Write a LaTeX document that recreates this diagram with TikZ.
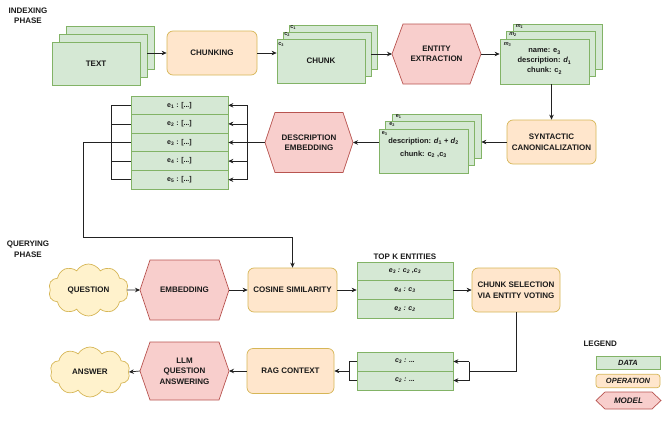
\documentclass[tikz,border=0pt]{standalone}
\usepackage{fontspec}
\setmainfont{Liberation Sans}
\usetikzlibrary{arrows.meta,shapes.symbols}
\definecolor{dataF}{HTML}{D5E8D4}
\definecolor{dataB}{HTML}{82B366}
\definecolor{opF}{HTML}{FFE6CC}
\definecolor{opB}{HTML}{D6B656}
\definecolor{modF}{HTML}{F8CECC}
\definecolor{modB}{HTML}{B85450}
\definecolor{clF}{HTML}{FFF2CC}
\definecolor{clB}{HTML}{D6B656}
\definecolor{lineC}{HTML}{222222}
\definecolor{txtC}{HTML}{1A1A1A}
\newcommand\hexnode[7]{% name, cx, cy, w, h, inset, text
  \draw[model] (#2-#4/2+#6,#3-#5/2) -- (#2+#4/2-#6,#3-#5/2) -- (#2+#4/2,#3)
     -- (#2+#4/2-#6,#3+#5/2) -- (#2-#4/2+#6,#3+#5/2) -- (#2-#4/2,#3) -- cycle;
  \node[base, minimum width=#4, minimum height=#5, inner sep=0, outer sep=0] (#1) at (#2,#3) {#7};}
\begin{document}
\begin{tikzpicture}[x=1pt,y=-1pt,
  base/.style={font=\fontsize{8}{10.5}\selectfont\bfseries, text=txtC, align=center},
  data/.style={base, draw=dataB, fill=dataF, line width=0.7pt, inner sep=0},
  op/.style={base, draw=opB, fill=opF, line width=0.7pt, rounded corners=6pt, inner sep=0},
  model/.style={draw=modB, fill=modF, line width=0.7pt},
  cloudy/.style={base, cloud, cloud puffs=10, cloud puff arc=120, cloud ignores aspect, draw=clB, fill=clF, line width=0.7pt, inner sep=0},
  arr/.style={-{Stealth[length=5pt,width=4.5pt]}, line width=0.7pt, draw=lineC},
  ln/.style={line width=0.7pt, draw=lineC},
  lbl/.style={base, font=\fontsize{5.5}{6}\selectfont\bfseries, inner sep=0},
  rowtxt/.style={font=\fontsize{7}{8}\selectfont\bfseries},
  phase/.style={base}
]
\useasboundingbox (0,0) rectangle (667,431);

% phase labels
\node[phase] (ip) at (28,15.5) {INDEXING\\PHASE};
\node[phase] (qp) at (28,249) {QUERYING\\PHASE};

% TEXT stack
\node[data, minimum width=88, minimum height=43] (tb) at (110,47.5) {};
\node[data, minimum width=88, minimum height=43] (tm) at (103,55.5) {};
\node[data, minimum width=88, minimum height=43] (tf) at (96,63.5) {TEXT};

% CHUNKING
\node[op, minimum width=90, minimum height=44] (chunking) at (212,53) {CHUNKING};

% CHUNK stack
\node[data, minimum width=88, minimum height=44] (cb) at (333,47) {};
\node[data, minimum width=88, minimum height=44] (cm) at (327,54) {};
\node[data, minimum width=88, minimum height=44] (cf) at (321,61) {CHUNK};
\node[lbl, anchor=north west] (cl1) at ([xshift=1.5,yshift=-1]cb.north west) {c\textsubscript{1}};
\node[lbl, anchor=north west] (cl2) at ([xshift=1.5,yshift=-1]cm.north west) {c\textsubscript{2}};
\node[lbl, anchor=north west] (cl3) at ([xshift=1.5,yshift=-4]cf.north west) {c\textsubscript{3}};

% ENTITY EXTRACTION
\hexnode{ee}{436.5}{54}{89}{60}{11}{ENTITY\\EXTRACTION}

% m stack
\node[data, minimum width=89, minimum height=45] (mb) at (557.5,46.5) {};
\node[data, minimum width=89, minimum height=45] (mm) at (551,54) {};
\node[data, minimum width=89, minimum height=45, font=\fontsize{7.5}{10}\selectfont\bfseries] (mf) at (544.5,61.5)
   {name: e\textsubscript{3}\\description: \textit{d}\textsubscript{1}\\chunk: c\textsubscript{2}};
\node[lbl, anchor=north west, font=\fontsize{5.5}{6}\selectfont\bfseries\itshape] (ml1) at ([xshift=3,yshift=-1]mb.north west) {m\textsubscript{1}};
\node[lbl, anchor=north west, font=\fontsize{5.5}{6}\selectfont\bfseries\itshape] (ml2) at ([xshift=3,yshift=-1]mm.north west) {m\textsubscript{2}};
\node[lbl, anchor=north west, font=\fontsize{5.5}{6}\selectfont\bfseries\itshape] (ml3) at ([xshift=4,yshift=-4]mf.north west) {m\textsubscript{3}};

% SYNTACTIC CANONICALIZATION
\node[op, minimum width=89, minimum height=44] (sc) at (551.5,142) {SYNTACTIC\\CANONICALIZATION};

% e stack
\node[data, minimum width=89, minimum height=44] (eb) at (436.5,136) {};
\node[data, minimum width=89, minimum height=44] (em) at (430,143.5) {};
\node[data, minimum width=89, minimum height=44] (ef) at (423.5,151) {};
\node[base, font=\fontsize{7.5}{13}\selectfont\bfseries] (etx) at (423.5,147.5)
   {description: \textit{d}\textsubscript{1} + \textit{d}\textsubscript{2}\\chunk: c\textsubscript{2} ,c\textsubscript{3}};
\node[lbl, anchor=north west] (el1) at ([xshift=4,yshift=-1]eb.north west) {e\textsubscript{1}};
\node[lbl, anchor=north west] (el2) at ([xshift=4,yshift=-1]em.north west) {e\textsubscript{2}};
\node[lbl, anchor=north west] (el3) at ([xshift=3,yshift=-2.5]ef.north west) {e\textsubscript{3}};

% DESCRIPTION EMBEDDING
\hexnode{de}{309}{142.5}{88}{60}{10}{DESCRIPTION\\EMBEDDING}

% entity list
\foreach \i/\y in {1/105.3,2/123.9,3/142.5,4/161.1,5/179.7}{
  \node[data, rowtxt, minimum width=97, minimum height=18.6] (r\i) at (179.5,\y) {e\textsubscript{\i} : [...]};
}
\coordinate (rj) at (247,142.5);
\coordinate (lj) at (111,142.5);
\draw[ln] (de.west) -- (rj);
\draw[ln] (rj |- r1) -- (rj |- r5);
\foreach \i in {1,...,5}{
  \draw[arr] (rj |- r\i) -- (r\i.east);
  \draw[ln] (r\i.west) -- (lj |- r\i);
}
\draw[ln] (lj |- r1) -- (lj |- r5);

% Querying phase
\node[cloudy, minimum width=80, minimum height=52] (q) at (88.5,290) {QUESTION};
\hexnode{emb}{184.5}{290}{89}{60}{10}{EMBEDDING}
\node[op, minimum width=89, minimum height=44] (cs) at (292.5,290) {COSINE SIMILARITY};

\node[base] (tkt) at (405,256.5) {TOP K ENTITIES};
\node[data, rowtxt, minimum width=96, minimum height=18.7] (k1) at (405,271.3) {\textit{e\textsubscript{3} : c\textsubscript{2} ,c\textsubscript{3}}};
\node[data, rowtxt, minimum width=96, minimum height=18.7] (k2) at (405,290) {\textit{e\textsubscript{4} : c\textsubscript{3}}};
\node[data, rowtxt, minimum width=96, minimum height=18.7] (k3) at (405,308.7) {\textit{e\textsubscript{2} : c\textsubscript{2}}};

\node[op, minimum width=88, minimum height=44] (csv) at (516,290) {CHUNK SELECTION\\VIA ENTITY VOTING};

\node[data, rowtxt, minimum width=96, minimum height=19] (x1) at (405,361.5) {\textit{c\textsubscript{3} : ...}};
\node[data, rowtxt, minimum width=96, minimum height=19] (x2) at (405,380.5) {\textit{c\textsubscript{2} : ...}};

\node[op, minimum width=87, minimum height=45] (rag) at (290.5,371) {RAG CONTEXT};
\hexnode{llm}{184.5}{371}{89}{58}{10}{LLM\\QUESTION\\ANSWERING}
\node[cloudy, minimum width=80, minimum height=50] (ans) at (90,372) {ANSWER};

% connectors indexing
\draw[arr] (chunking.west -| tm.east) -- (chunking.west);
\draw[arr] (chunking.east) -- (chunking.east -| cf.west);
\draw[arr] (ee.west -| cm.east) -- (ee.west);
\draw[arr] (ee.east) -- (ee.east -| mf.west);
\draw[arr] (sc.north |- mf.south) -- (sc.north);
\draw[arr] (sc.west) -- (sc.west -| eb.east);
\draw[arr] (de.east -| ef.west) -- (de.east);

% link to cosine
\coordinate (bend1) at (83,237);
\draw[arr] (r3.west) -| (bend1) -| (cs.north);

% connectors querying
\draw[arr] (q.east) -- (emb.west);
\draw[arr] (emb.east) -- (cs.west);
\draw[arr] (cs.east) -- (k2.west);
\draw[arr] (k2.east) -- (csv.west);
\coordinate (xj) at (469,371);
\draw[ln] (csv.south) |- (xj);
\draw[ln] (xj |- x1) -- (xj |- x2);
\draw[arr] (xj |- x1) -- (x1.east);
\draw[arr] (xj |- x2) -- (x2.east);
\coordinate (yj) at (349,371);
\draw[ln] (x1.west) -- (yj |- x1);
\draw[ln] (x2.west) -- (yj |- x2);
\draw[ln] (yj |- x1) -- (yj |- x2);
\draw[arr] (yj) -- (rag.east);
\draw[arr] (rag.west) -- (llm.east);
\draw[arr] (llm.west) -- (ans.east);

% legend
\node[base, anchor=west] (leg) at (580,344) {LEGEND};
\node[data, minimum width=64, minimum height=13, font=\fontsize{7.5}{8}\selectfont\bfseries\itshape] (ld) at (628,362.5) {DATA};
\node[op, rounded corners=3pt, minimum width=64, minimum height=13.5, font=\fontsize{7.5}{8}\selectfont\bfseries\itshape] (lo) at (628,381) {OPERATION};
\hexnode{lm}{628.5}{400.5}{65}{17}{9}{\itshape MODEL}
\end{tikzpicture}
\end{document}
